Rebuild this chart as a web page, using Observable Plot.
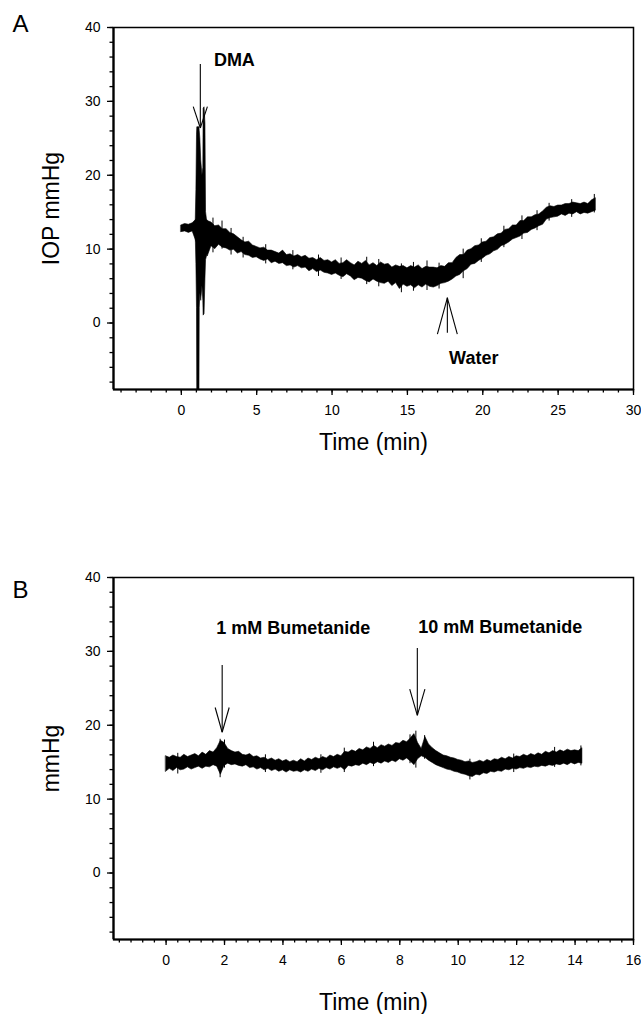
<!DOCTYPE html>
<html><head><meta charset="utf-8">
<script src="https://cdn.jsdelivr.net/npm/d3@7"></script>
<script src="https://cdn.jsdelivr.net/npm/@observablehq/plot@0.6"></script>
<style>
html,body{margin:0;padding:0;background:#fff;}
#chart{width:641px;}
#chart svg{display:block;}
</style>
</head><body><div id="chart"></div>
<script>
const FONT = "'Liberation Sans', Arial, Helvetica, sans-serif";

// ---------- Panel A (IOP, DMA / Water) ----------
const stepA = 0.25; // min between samples
const loA = [12.3,12.4,12.2,12.4,11.0,10.0,10.0,9.0,10.4,10.0,
 10.6,10.2,10.1,9.8,9.9,9.4,9.6,9.2,9.1,8.8,
 8.9,8.6,8.4,8.6,8.1,8.3,8.0,8.1,7.7,7.8,
 7.5,7.7,7.4,7.5,7.0,7.3,6.9,7.1,6.8,6.7,
 6.5,6.7,6.4,6.2,6.6,6.3,5.8,6.1,6.0,5.7,
 5.5,5.9,5.6,5.4,5.3,5.6,5.0,5.4,4.6,5.2,
 4.9,5.1,4.7,5.1,4.8,5.2,4.9,4.8,5.0,5.3,
 5.4,5.6,5.9,6.3,6.5,7.0,7.3,7.9,8.0,8.4,
 8.7,9.1,9.3,9.7,9.9,10.4,10.6,10.9,11.3,11.5,
 11.7,12.1,12.2,12.6,12.8,13.1,13.3,14.0,14.2,14.3,
 14.4,14.7,14.5,14.8,14.7,15.0,14.7,14.9,14.8,15.0,
 15.2];
const hiA = [13.2,13.4,13.3,13.5,14.0,14.0,14.0,13.8,13.6,13.1,
 13.2,12.7,12.7,12.2,12.0,11.6,11.2,10.9,11.0,10.5,
 10.3,10.1,10.2,9.8,9.8,9.6,9.4,9.8,9.2,9.3,
 9.0,9.2,8.9,9.1,8.7,8.8,8.5,8.8,8.4,8.5,
 8.2,8.5,8.0,8.1,8.5,8.1,7.8,8.3,8.0,8.4,
 7.8,8.1,7.7,8.2,7.9,8.0,7.5,7.8,7.6,7.7,
 7.4,7.7,7.5,7.8,7.3,7.6,7.5,7.5,7.4,7.7,
 7.6,8.1,8.1,8.8,9.2,9.2,9.8,10.0,10.4,10.5,
 10.9,11.0,11.5,11.6,12.0,12.1,12.6,12.7,13.2,13.2,
 13.8,13.8,14.3,14.3,14.6,14.7,15.1,15.6,15.8,15.7,
 15.9,15.9,16.1,16.1,16.3,16.2,16.1,16.3,16.1,16.6,
 16.9];
// DMA injection artefact
const spikeT  = [0.95,1.00,1.04,1.06,1.20,1.22,1.26,1.32,1.40,1.46,1.48,1.54,1.60,1.64,1.70,1.76];
const spikeHi = [13.3,18.0,25.5,26.5,26.5,26.0,25.0,22.0,20.0,21.0,29.0,29.2,27.0,15.0,14.0,13.8];
const spikeLo = [12.3,8.0,2.0,-12,-12,2.0,4.0,3.0,5.0,3.0,1.0,1.2,6.0,8.5,9.0,10.0];
// isolated noise excursions (time, low, high)
const noiseTA  = [2.1,2.7,3.3,4.1,5.6,7.4,9.1,10.6,12.3,13.1,14.6,15.4,16.3,17.1,18.7,19.9,21.4,22.6,23.6,24.4,25.9,27.4];
const noiseLoA = [9.5,10.0,9.2,8.8,8.0,7.2,6.3,5.9,5.2,4.9,4.1,4.3,4.4,4.6,6.0,8.2,10.2,11.3,12.5,13.8,14.3,14.9];
const noiseHiA = [14.2,13.8,12.8,11.6,10.6,9.8,9.2,8.8,8.9,8.6,8.0,8.2,8.4,8.1,10.0,11.4,13.1,14.5,15.2,16.2,16.7,17.4];

const xDomainA = [-4.5, 30];
const xTicksA = [0, 5, 10, 15, 20, 25, 30];
const xMinorA = d3.range(-4, 31, 1);
const yDomain = [-9, 40];
const yTicks = [0, 10, 20, 30, 40];
const yMinor = d3.range(-8, 41, 2);

const arrowsA = [
  {x: 1.26, tail: 35, tip: 26.4, wingY: 29.3, wingDx: 0.47},
  {x: 17.65, tail: -1.4, tip: 3.4, wingY: -1.5, wingDx: 0.66}
];
const labelsA = [
  {text: "DMA", x: 3.52, y: 35.6},
  {text: "Water", x: 19.4, y: -4.8}
];

// ---------- Panel B (Bumetanide) ----------
const stepB = 0.125;
const loB = [13.7,14.1,13.8,14.2,13.9,14.0,14.3,14.0,14.2,14.4,
 14.1,14.4,14.3,14.6,14.4,13.3,14.5,14.8,14.6,14.7,
 14.5,14.4,14.6,14.2,14.3,14.0,14.2,13.9,14.1,13.8,
 14.0,13.7,13.9,13.6,13.9,13.7,13.8,13.6,13.9,13.7,
 14.0,13.8,14.1,13.9,14.2,14.0,14.3,14.1,14.3,13.9,
 14.5,14.4,14.6,14.5,14.8,14.6,14.9,14.7,15.0,14.8,
 15.1,14.9,15.2,15.0,15.4,15.2,15.5,15.1,14.6,15.4,
 15.8,15.6,15.2,14.9,14.6,14.4,14.2,14.0,13.9,13.7,
 13.6,13.4,13.3,13.1,13.0,13.3,13.2,13.5,13.4,13.7,
 13.6,13.8,13.7,14.0,13.9,14.1,14.0,14.2,14.1,14.3,
 14.2,14.4,14.3,14.5,14.4,14.6,14.5,14.7,14.6,14.8,
 14.6,14.9,14.7,14.9,14.8];
const hiB = [15.8,15.6,15.9,15.7,15.6,16.0,15.7,15.9,16.1,15.8,
 16.3,16.0,16.5,16.3,16.9,17.9,17.6,16.8,16.5,16.3,
 16.4,16.0,15.9,16.1,15.7,15.8,15.5,15.6,15.3,15.5,
 15.2,15.4,15.1,15.3,15.0,15.2,15.0,15.4,15.1,15.5,
 15.3,15.6,15.4,15.7,15.5,15.9,15.7,16.0,15.8,16.4,
 16.3,16.6,16.4,16.8,16.6,17.0,16.8,17.2,16.9,17.3,
 17.1,17.4,17.2,17.6,17.5,17.9,17.7,18.2,18.8,17.6,
 16.8,18.4,17.4,16.9,16.5,16.2,15.9,15.8,15.6,15.5,
 15.3,15.2,15.0,15.1,14.9,15.0,15.2,15.0,15.3,15.1,
 15.4,15.3,15.6,15.4,15.7,15.5,15.8,15.7,16.0,15.8,
 16.1,15.9,16.2,16.0,16.4,16.2,16.5,16.3,16.6,16.4,
 16.7,16.5,16.6,16.5,16.9];
const noiseTB  = [0.4,1.85,2.0,3.4,5.3,6.1,7.1,8.35,8.55,8.85,10.4,11.9,13.3,14.2];
const noiseLoB = [13.4,12.9,14.2,13.6,13.5,13.6,14.4,14.8,14.2,15.4,12.6,13.6,14.3,14.5];
const noiseHiB = [16.2,18.1,18.0,16.0,16.0,16.9,17.7,18.7,19.2,18.6,15.4,16.1,17.0,17.2];

const xDomainB = [-1.8, 16];
const xTicksB = [0, 2, 4, 6, 8, 10, 12, 14, 16];
const xMinorB = d3.range(-1.6, 16.01, 0.4);

const arrowsB = [
  {x: 1.92, tail: 28.1, tip: 19.05, wingY: 22.4, wingDx: 0.24},
  {x: 8.6, tail: 30.4, tip: 21.35, wingY: 24.9, wingDx: 0.26}
];
const labelsB = [
  {text: "1 mM Bumetanide", x: 4.35, y: 33.2},
  {text: "10 mM Bumetanide", x: 11.44, y: 33.3}
];

// ---------- drawing ----------
function panel(opts) {
  const {series, extra, noise, xDomain, xTicks, xMinor, arrows, labels, yLabel, letter,
         height, marginTop, marginBottom, xLabelDy, letterDy} = opts;
  const marks = [
    Plot.areaY(series, {x: "t", y1: "lo", y2: "hi", fill: "black", stroke: "black", strokeWidth: 0.6, clip: true}),
    Plot.ruleX(noise, {x: "t", y1: "lo", y2: "hi", stroke: "black", strokeWidth: 1, clip: true})
  ];
  if (extra) marks.push(Plot.areaY(extra, {x: "t", y1: "lo", y2: "hi", fill: "black", stroke: "black", strokeWidth: 0.6, clip: true}));
  marks.push(
    Plot.ruleX(arrows, {x: "x", y1: "tail", y2: "tip", stroke: "black", strokeWidth: 1.1}),
    Plot.link(arrows, {x1: d => d.x - d.wingDx, y1: "wingY", x2: "x", y2: "tip", stroke: "black", strokeWidth: 1.1}),
    Plot.link(arrows, {x1: d => d.x + d.wingDx, y1: "wingY", x2: "x", y2: "tip", stroke: "black", strokeWidth: 1.1}),
    Plot.text(labels, {x: "x", y: "y", text: "text", fontWeight: "bold", fontSize: 18, textAnchor: "middle", lineAnchor: "middle", fill: "black"}),
    Plot.frame({stroke: "black", strokeWidth: 1.5}),
    Plot.ruleY([yDomain[0]], {stroke: "black", strokeWidth: 2.2}),
    Plot.ruleX([xDomain[0]], {stroke: "black", strokeWidth: 2.2}),
    Plot.axisX({ticks: xMinor, tickSize: 3.5, tickFormat: () => "", label: null, strokeWidth: 1.3}),
    Plot.axisX({ticks: xTicks, tickSize: 6, tickPadding: 10, fontSize: 14, label: null, strokeWidth: 1.3}),
    Plot.axisY({ticks: yMinor, tickSize: 3.5, tickFormat: () => "", label: null, strokeWidth: 1.3}),
    Plot.axisY({ticks: yTicks, tickSize: 6, tickPadding: 7, fontSize: 14, label: null, strokeWidth: 1.3}),
    Plot.text(["Time (min)"], {text: d => d, frameAnchor: "bottom", dy: xLabelDy, fontSize: 23, textAnchor: "middle", lineAnchor: "middle"}),
    Plot.text([yLabel], {text: d => d, frameAnchor: "left", rotate: -90, dx: -62, fontSize: 23, textAnchor: "middle", lineAnchor: "middle"}),
    Plot.text([letter], {text: d => d, frameAnchor: "top-left", dx: -93, dy: letterDy, fontSize: 24, textAnchor: "middle", lineAnchor: "middle"})
  );
  return Plot.plot({
    width: 641, height, marginTop, marginBottom, marginLeft: 113, marginRight: 8,
    style: {fontFamily: FONT, fontSize: "14px", color: "black", background: "white", overflow: "visible"},
    x: {domain: xDomain, label: null},
    y: {domain: yDomain, label: null},
    marks
  });
}

const seriesA = loA.map((lo, i) => ({t: i * stepA, lo, hi: hiA[i]}));
const spikeA = spikeT.map((t, i) => ({t, lo: spikeLo[i], hi: spikeHi[i]}));
const noiseA = noiseTA.map((t, i) => ({t, lo: noiseLoA[i], hi: noiseHiA[i]}));
const seriesB = loB.map((lo, i) => ({t: i * stepB, lo, hi: hiB[i]}));
const noiseB = noiseTB.map((t, i) => ({t, lo: noiseLoB[i], hi: noiseHiB[i]}));

const chart = document.getElementById("chart");
chart.append(panel({
  series: seriesA, extra: spikeA, noise: noiseA, xDomain: xDomainA, xTicks: xTicksA, xMinor: xMinorA,
  arrows: arrowsA, labels: labelsA, yLabel: "IOP mmHg", letter: "A",
  height: 490, marginTop: 27, marginBottom: 101, xLabelDy: 53, letterDy: -3.5
}));
chart.append(panel({
  series: seriesB, extra: null, noise: noiseB, xDomain: xDomainB, xTicks: xTicksB, xMinor: xMinorB,
  arrows: arrowsB, labels: labelsB, yLabel: "mmHg", letter: "B",
  height: 524, marginTop: 87, marginBottom: 75, xLabelDy: 63, letterDy: 13
}));
</script></body></html>
